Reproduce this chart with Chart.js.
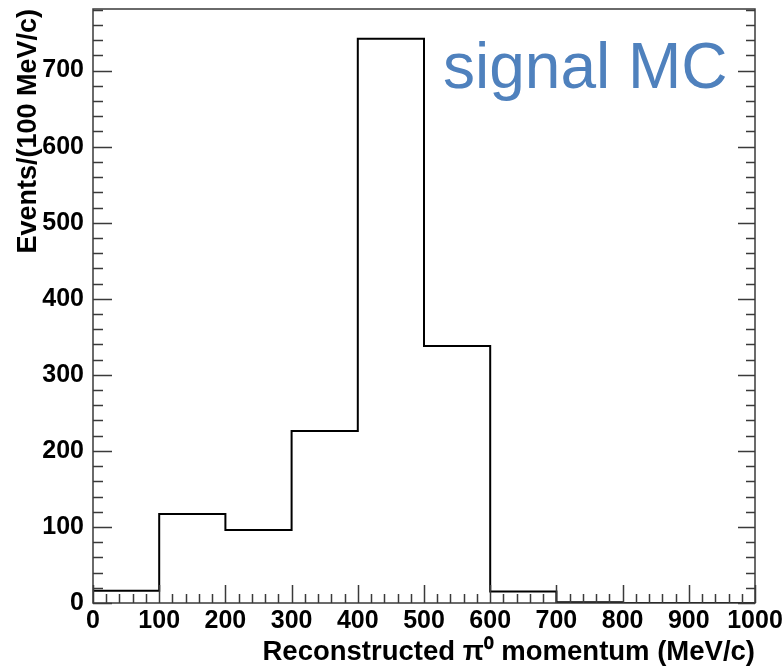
<!DOCTYPE html>
<html><head><meta charset="utf-8">
<script src="https://cdn.jsdelivr.net/npm/chart.js@4.4.0/dist/chart.umd.min.js"></script>
<style>html,body{margin:0;padding:0;background:#fff}#wrap{width:784px;height:669px;position:relative}</style>
</head><body><div id="wrap"><canvas id="c"></canvas></div>
<script>
const binEdges = [0, 100, 200, 300, 400, 500, 600, 700, 800, 900, 1000];
const binCounts = [16, 117, 96, 226, 742, 338, 15, 1, 0, 0];
const xTickValues = [0, 100, 200, 300, 400, 500, 600, 700, 800, 900, 1000];
const yTickValues = [0, 100, 200, 300, 400, 500, 600, 700];
const xTitle = 'Reconstructed \u03C0\u2070 momentum (MeV/c)';
const yTitle = 'Events/(100 MeV/c)';
const annotationText = 'signal MC';

const stepPoints = binEdges.map((e, i) => ({ x: e, y: binCounts[Math.min(i, binCounts.length - 1)] }));

const FRAME = '#3a3a3a';
const FONT = '"Liberation Sans", Arial, sans-serif';
const framePlugin = {
  id: 'rootFrame',
  afterDatasetsDraw(chart) {
    const { ctx, chartArea: a, scales: { x, y } } = chart;
    ctx.save();
    ctx.strokeStyle = FRAME;
    ctx.lineWidth = 1.5;
    ctx.beginPath();
    for (let v = 0; v <= y.max; v += 20) {
      const py = Math.round(y.getPixelForValue(v)) + 0.5;
      const major = v % 100 === 0;
      ctx.moveTo(a.left, py); ctx.lineTo(a.left + (major ? 19 : 10), py);
      ctx.moveTo(a.right, py); ctx.lineTo(a.right - (major ? 17 : 9), py);
    }
    for (let v = 0; v <= x.max; v += 20) {
      const px = Math.round(x.getPixelForValue(v)) + 0.5;
      const major = v % 100 === 0;
      ctx.moveTo(px, a.bottom); ctx.lineTo(px, a.bottom - (major ? 18 : 9));
    }
    ctx.stroke();
    ctx.strokeRect(a.left, a.top, a.right - a.left, a.bottom - a.top);
    ctx.fillStyle = '#4f81bd';
    ctx.font = '64px ' + FONT;
    ctx.textBaseline = 'alphabetic';
    ctx.textAlign = 'left';
    ctx.fillText(annotationText, 443, 88);
    ctx.restore();
  }
};

new Chart(document.getElementById('c'), {
  type: 'line',
  data: {
    datasets: [{
      data: stepPoints,
      stepped: 'before',
      borderColor: '#000',
      borderWidth: 2,
      pointRadius: 0,
      fill: false
    }]
  },
  options: {
    responsive: true,
    maintainAspectRatio: false,
    animation: false,
    layout: { padding: { top: 9, right: 29, left: 0, bottom: 0 } },
    plugins: { legend: { display: false }, tooltip: { enabled: false } },
    scales: {
      x: {
        type: 'linear', min: 0, max: 1000,
        grid: { display: false, drawTicks: false },
        border: { display: false },
        afterBuildTicks: s => { s.ticks = xTickValues.map(v => ({ value: v })); },
        afterFit: s => { s.height = 66; s.paddingLeft = 0; s.paddingRight = 0; },
        ticks: { autoSkip: false, maxRotation: 0, padding: 3, color: '#000',
          callback: v => String(v),
          font: { family: FONT, size: 25, weight: 'bold' } },
        title: { display: true, text: xTitle, align: 'end', color: '#000',
          padding: { top: 0, bottom: 0 },
          font: { family: FONT, size: 27.5, weight: 'bold' } }
      },
      y: {
        type: 'linear', min: 0, max: 781,
        grid: { display: false, drawTicks: false },
        border: { display: false },
        afterBuildTicks: s => { s.ticks = yTickValues.map(v => ({ value: v })); },
        afterFit: s => { s.width = 93; s.paddingTop = 0; s.paddingBottom = 0; },
        ticks: { padding: 9, color: '#000',
          callback: v => String(v),
          font: { family: FONT, size: 25, weight: 'bold' } },
        title: { display: true, text: yTitle, align: 'end', color: '#000',
          padding: { top: 12, bottom: 0 },
          font: { family: FONT, size: 27, weight: 'bold' } }
      }
    }
  },
  plugins: [framePlugin]
});
</script></body></html>
